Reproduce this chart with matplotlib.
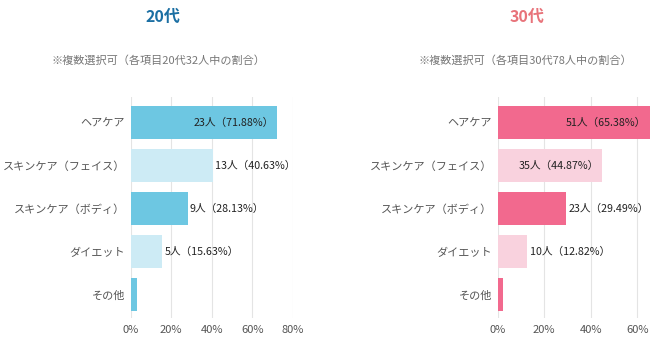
import matplotlib.pyplot as plt
import numpy as np

plt.rcParams['font.family'] = ['Noto Sans CJK JP', 'DejaVu Sans']

items = ['ヘアケア', 'スキンケア（フェイス）', 'スキンケア（ボディ）', 'ダイエット', 'その他']

# 20代
counts_20 = [23, 13, 9, 5, 1]
pct_20 = [71.88, 40.63, 28.13, 15.63, 3.13]
# 30代
counts_30 = [51, 35, 23, 10, 2]
pct_30 = [65.38, 44.87, 29.49, 12.82, 2.56]

W, H = 667, 348
fig = plt.figure(figsize=(W / 100, H / 100), dpi=100)


def px_axes(x0, x1, y0, y1):
    return fig.add_axes([x0 / W, 1 - y1 / H, (x1 - x0) / W, (y1 - y0) / H])


def draw(ax, counts, pct, dark, light, xmax, ticks, inside):
    y = np.arange(len(items))
    colors = [dark if i % 2 == 0 else light for i in range(len(items))]
    ax.barh(y, pct, height=0.78, color=colors, zorder=2)
    ax.set_ylim(len(items) - 0.45, -0.6)
    ax.set_xlim(0, xmax)
    ax.set_yticks(y)
    ax.set_yticklabels(items, fontsize=8, color='#555555')
    ax.set_xticks(ticks)
    ax.set_xticklabels([f'{t}%' for t in ticks], fontsize=8, color='#555555')
    ax.tick_params(axis='y', length=0, pad=4)
    ax.tick_params(axis='x', length=0, pad=5)
    ax.grid(axis='x', color='#e4e4e4', lw=0.8, zorder=0)
    for s in ax.spines.values():
        s.set_visible(False)
    for i in range(len(items) - 1):
        txt = f'{counts[i]}人（{pct[i]:.2f}%）'
        if i in inside:
            ax.text(pct[i] - 1.5, y[i], txt, ha='right', va='center', fontsize=7.7, color='#222222')
        else:
            ax.text(pct[i] + 1, y[i], txt, ha='left', va='center', fontsize=7.7, color='#222222')


ax1 = px_axes(130.5, 293, 97, 318)
draw(ax1, counts_20, pct_20, '#6dc7e2', '#cdebf5', 80, [0, 20, 40, 60, 80], [0])
ax2 = px_axes(497.5, 650, 97, 318)
draw(ax2, counts_30, pct_30, '#f2698e', '#f9d2de', 65.5, [0, 20, 40, 60], [0, 1])

fig.text(163 / W, 1 - 17 / H, '20代', ha='center', va='center', fontsize=11.5,
         fontweight='bold', color='#1b6fa3')
fig.text(158 / W, 1 - 61 / H, '※複数選択可（各項目20代32人中の割合）', ha='center', va='center',
         fontsize=8, color='#777777')
fig.text(527 / W, 1 - 17 / H, '30代', ha='center', va='center', fontsize=11.5,
         fontweight='bold', color='#e8737a')
fig.text(525 / W, 1 - 61 / H, '※複数選択可（各項目30代78人中の割合）', ha='center', va='center',
         fontsize=8, color='#777777')

fig.savefig('out.png', dpi=100, facecolor='white')
